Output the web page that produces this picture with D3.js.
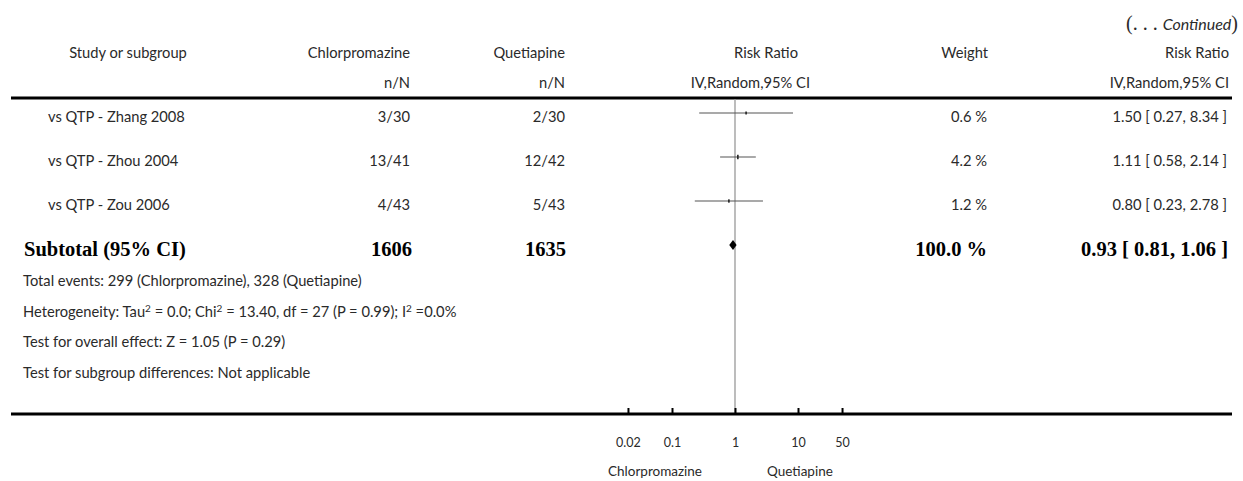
<!DOCTYPE html>
<html><head><meta charset="utf-8">
<script src="https://cdn.jsdelivr.net/npm/d3@7"></script>
<style>
body{margin:0;background:#fff;}
svg{display:block;}
</style></head>
<body>
<svg id="c" width="1243" height="481"></svg>
<script>
const studies = ["vs QTP - Zhang 2008", "vs QTP - Zhou 2004", "vs QTP - Zou 2006"];
const chlorN = ["3/30", "13/41", "4/43"];
const quetN = ["2/30", "12/42", "5/43"];
const rr = [1.50, 1.11, 0.80];
const lo = [0.27, 0.58, 0.23];
const hi = [8.34, 2.14, 2.78];
const weights = [0.6, 4.2, 1.2];
const subtotal = {label: "Subtotal (95% CI)", chlor: 1606, quet: 1635, weight: 100.0, rr: 0.93, lo: 0.81, hi: 1.06};
const footnotes = [
  "Total events: 299 (Chlorpromazine), 328 (Quetiapine)",
  "Heterogeneity: Tau² = 0.0; Chi² = 13.40, df = 27 (P = 0.99); I² =0.0%",
  "Test for overall effect: Z = 1.05 (P = 0.29)",
  "Test for subgroup differences: Not applicable"
];
const tickVals = [0.02, 0.1, 1, 10, 50];
const tickLabels = ["0.02", "0.1", "1", "10", "50"];

const svg = d3.select("#c");
const sans = "Lato, 'Open Sans', sans-serif";
const serif = "'Liberation Serif', 'DejaVu Serif', serif";
const fs = 14.7;
const ink = "#2a2a2a";

const x = d3.scaleLog().domain([0.01, 100]).range([609, 861]);
const rowY = d3.scalePoint().domain(d3.range(4)).range([113, 245]);

function txt(xp, yp, s, anchor, opts = {}) {
  return svg.append("text").attr("x", xp).attr("y", yp)
    .attr("text-anchor", anchor)
    .attr("font-family", opts.family || sans)
    .attr("font-size", opts.size || fs)
    .attr("font-weight", opts.weight || "normal")
    .attr("font-style", opts.style || "normal")
    .attr("fill", opts.fill || ink)
    .text(s);
}

// header
const cont = svg.append("text").attr("x", 1238).attr("y", 30).attr("text-anchor", "end")
  .attr("font-family", serif).attr("font-size", 20).attr("fill", ink);
cont.append("tspan").text("(. . . ");
cont.append("tspan").attr("font-family", sans).attr("font-style", "italic").attr("font-size", 16).text("Continued");
cont.append("tspan").text(")");

txt(128, 58, "Study or subgroup", "middle");
txt(410, 58, "Chlorpromazine", "end");
txt(410, 88, "n/N", "end");
txt(565, 58, "Quetiapine", "end");
txt(565, 88, "n/N", "end");
txt(798, 58, "Risk Ratio", "end");
txt(810, 88, "IV,Random,95% CI", "end");
txt(988, 58, "Weight", "end");
txt(1229, 58, "Risk Ratio", "end");
txt(1229, 88, "IV,Random,95% CI", "end");

// rules
svg.append("line").attr("x1", 11).attr("x2", 1232).attr("y1", 98).attr("y2", 98)
  .attr("stroke", "#000").attr("stroke-width", 3);

// reference line at 1
svg.append("line").attr("x1", x(1)).attr("x2", x(1)).attr("y1", 99).attr("y2", 414)
  .attr("stroke", "#999").attr("stroke-width", 1.3);

// study rows
const f2 = d3.format(".2f");
studies.forEach((s, i) => {
  const y = rowY(i);
  txt(48, y + 9, s, "start");
  txt(410, y + 9, chlorN[i], "end");
  txt(565, y + 9, quetN[i], "end");
  txt(987, y + 9, d3.format(".1f")(weights[i]) + " %", "end");
  txt(1227, y + 9, `${f2(rr[i])} [ ${f2(lo[i])}, ${f2(hi[i])} ]`, "end");
  svg.append("line").attr("x1", x(lo[i])).attr("x2", x(hi[i])).attr("y1", y).attr("y2", y)
    .attr("stroke", "#555").attr("stroke-width", 1.2);
  const h = 2 + Math.sqrt(weights[i]) * 1.2;
  svg.append("rect").attr("x", x(rr[i]) - 0.8).attr("width", 1.6)
    .attr("y", y - h / 2).attr("height", h).attr("fill", "#222");
});

// subtotal
{
  const y = rowY(3);
  const o = {family: serif, weight: "bold", size: 20.5, fill: "#000"};
  txt(24, y + 11, subtotal.label, "start", o);
  txt(412, y + 11, subtotal.chlor, "end", o);
  txt(566, y + 11, subtotal.quet, "end", o);
  txt(987, y + 11, d3.format(".1f")(subtotal.weight) + " %", "end", o);
  txt(1228, y + 11, `${f2(subtotal.rr)} [ ${f2(subtotal.lo)}, ${f2(subtotal.hi)} ]`, "end", o);
  const pts = [[x(subtotal.lo), y], [x(subtotal.rr), y - 5], [x(subtotal.hi), y], [x(subtotal.rr), y + 5]];
  svg.append("polygon").attr("points", pts.map(p => p.join(",")).join(" ")).attr("fill", "#000");
}

// footnotes
const fy = d3.scalePoint().domain(d3.range(footnotes.length)).range([286, 378]);
footnotes.forEach((t, i) => {
  const el = svg.append("text").attr("x", 23).attr("y", fy(i))
    .attr("font-family", sans).attr("font-size", fs).attr("fill", ink);
  const parts = t.split("²");
  parts.forEach((p, j) => {
    el.append("tspan").attr("dy", j > 0 ? 5 : 0).text(p);
    if (j < parts.length - 1) el.append("tspan").attr("font-size", 10).attr("dy", -5).text("2");
  });
});

// bottom axis
svg.append("line").attr("x1", 11).attr("x2", 1232).attr("y1", 414).attr("y2", 414)
  .attr("stroke", "#000").attr("stroke-width", 3);
const axis = d3.axisBottom(x).tickValues(tickVals)
  .tickFormat((d, i) => tickLabels[i]).tickSize(-6).tickPadding(24);
const g = svg.append("g").attr("transform", "translate(0,414)").call(axis);
g.select(".domain").remove();
g.selectAll(".tick line").attr("stroke", "#000").attr("stroke-width", 2);
g.selectAll(".tick text").attr("font-family", sans).attr("font-size", 12.5).attr("fill", ink);

txt(x(1) - 33, 476, "Chlorpromazine", "end", {size: 13.5});
txt(x(1) + 32, 476, "Quetiapine", "start", {size: 13.5});
</script>
</body></html>
